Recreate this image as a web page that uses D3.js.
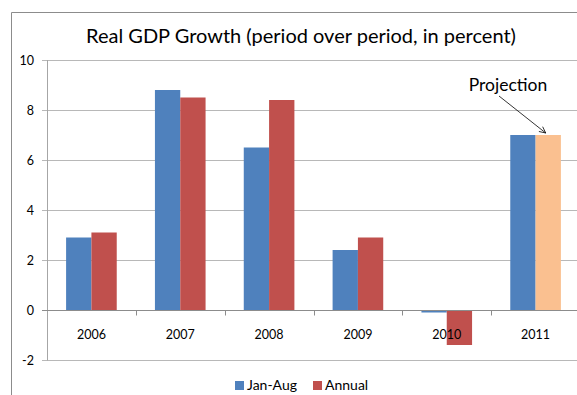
<!DOCTYPE html>
<html><head><meta charset="utf-8">
<script src="https://cdn.jsdelivr.net/npm/d3@7"></script>
<style>body{margin:0;background:#fff}svg{display:block;font-family:Lato,"Open Sans",sans-serif}</style>
</head><body><svg id="c" width="577" height="395"></svg>
<script>
const categories = ["2006","2007","2008","2009","2010","2011"];
const janAug = [2.9, 8.8, 6.5, 2.4, -0.1, 7.0];
const annual = [3.1, 8.5, 8.4, 2.9, -1.4, 7.0];
const projected = [false,false,false,false,false,true];
const yTicks = [-2,0,2,4,6,8,10];
const seriesNames = ["Jan-Aug","Annual"];
const colors = {janAug:"#4F81BD", annual:"#C0504D", proj:"#FAC090"};

const svg = d3.select("#c");
// outer frame
svg.append("path").attr("d","M11.5,395 V12.5 H577").attr("fill","none").attr("stroke","#8c8c8c").attr("stroke-width",1);

const plot = {l:47, r:580, t:60, b:360};
const x = d3.scaleBand().domain(categories).range([plot.l, plot.r]);
const y = d3.scaleLinear().domain([-2,10]).range([plot.b, plot.t]);

// gridlines
svg.append("g").selectAll("line").data(yTicks).join("line")
  .attr("x1",plot.l-5).attr("x2",plot.r)
  .attr("y1",d=>Math.round(y(d))+0.5).attr("y2",d=>Math.round(y(d))+0.5)
  .attr("stroke","#b8b8b8");
// y axis line
svg.append("line").attr("x1",plot.l+0.5).attr("x2",plot.l+0.5).attr("y1",plot.t).attr("y2",plot.b+0.5).attr("stroke","#a6a6a6");
// y labels
svg.append("g").selectAll("text").data(yTicks).join("text")
  .attr("x",34).attr("y",d=>y(d)+4.5).attr("text-anchor","end")
  .attr("font-size",12.5).attr("fill","#000").text(d=>d);

const bw = x.bandwidth()*0.285;
const g = svg.append("g");
g.selectAll("rect.a").data(categories).join("rect").attr("class","a")
  .attr("x",(d,i)=>x(d)+x.bandwidth()/2-bw)
  .attr("width",bw)
  .attr("y",(d,i)=>y(Math.max(0,janAug[i])))
  .attr("height",(d,i)=>Math.abs(y(janAug[i])-y(0)))
  .attr("fill",colors.janAug);
g.selectAll("rect.b").data(categories).join("rect").attr("class","b")
  .attr("x",(d,i)=>x(d)+x.bandwidth()/2)
  .attr("width",bw)
  .attr("y",(d,i)=>y(Math.max(0,annual[i])))
  .attr("height",(d,i)=>Math.abs(y(annual[i])-y(0)))
  .attr("fill",(d,i)=>projected[i]?colors.proj:colors.annual);

// zero axis
const y0 = Math.round(y(0))+0.5;
svg.append("line").attr("x1",plot.l-5).attr("x2",plot.r).attr("y1",y0).attr("y2",y0).attr("stroke","#8c8c8c");
// category ticks
svg.append("g").selectAll("line").data(categories.slice(1)).join("line")
  .attr("x1",d=>Math.round(x(d))+0.5).attr("x2",d=>Math.round(x(d))+0.5)
  .attr("y1",y0).attr("y2",y0+5).attr("stroke","#8c8c8c");
// category labels
svg.append("g").selectAll("text").data(categories).join("text")
  .attr("x",d=>x(d)+x.bandwidth()/2).attr("y",y(0)+29)
  .attr("text-anchor","middle").attr("font-size",12.5).text(d=>d);

// title
svg.append("text").attr("x",301).attr("y",43).attr("text-anchor","middle")
  .attr("font-size",20).text("Real GDP Growth (period over period, in percent)");

// projection annotation
const last = categories.length-1;
const tipX = x(categories[last])+x.bandwidth()/2+bw*0.4;
const tipY = y(annual[last])-2;
svg.append("text").attr("x",508).attr("y",91).attr("text-anchor","middle").attr("font-size",17.5).text("Projection");
svg.append("line").attr("x1",499).attr("y1",96).attr("x2",tipX).attr("y2",tipY).attr("stroke","#000").attr("stroke-width",0.8);
const ang = Math.atan2(tipY-96, tipX-499);
const ah = 7, aw = 0.45;
svg.append("path").attr("d",`M${tipX-ah*Math.cos(ang-aw)},${tipY-ah*Math.sin(ang-aw)} L${tipX},${tipY} L${tipX-ah*Math.cos(ang+aw)},${tipY-ah*Math.sin(ang+aw)}`)
  .attr("fill","none").attr("stroke","#000").attr("stroke-width",0.8);

// legend
const leg = svg.append("g");
const legX = [235, 313];
const legC = [colors.janAug, colors.annual];
seriesNames.forEach((n,i)=>{
  leg.append("rect").attr("x",legX[i]).attr("y",381).attr("width",9).attr("height",9).attr("fill",legC[i]);
  leg.append("text").attr("x",legX[i]+12).attr("y",390).attr("font-size",14).text(n);
});
</script></body></html>
